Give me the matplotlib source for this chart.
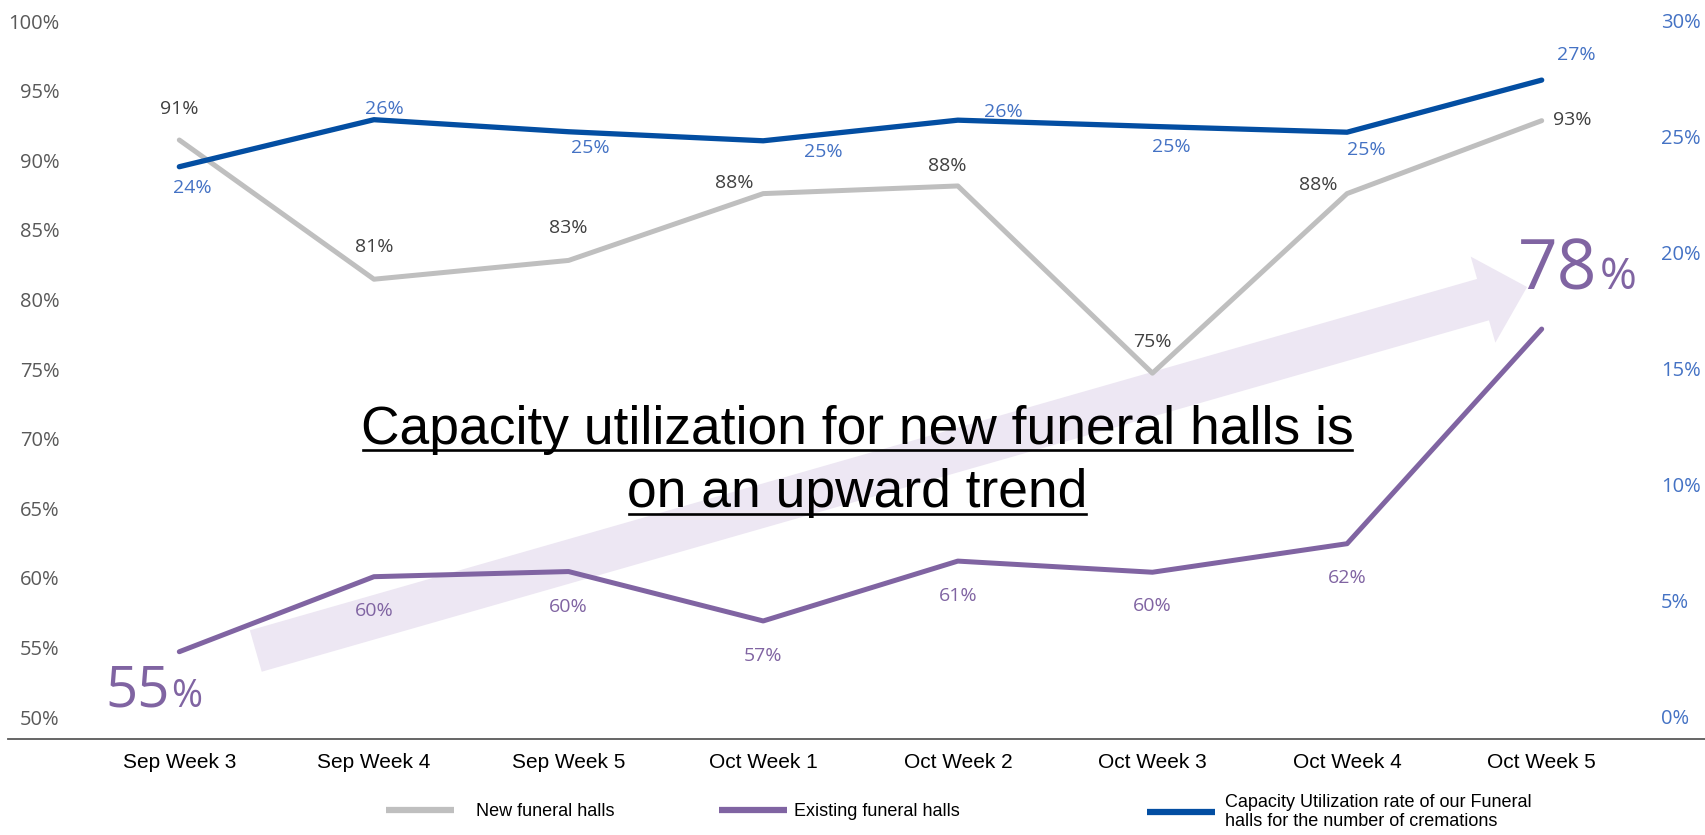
import matplotlib
matplotlib.use("Agg")
import matplotlib.pyplot as plt
from matplotlib.lines import Line2D
from matplotlib.patches import FancyArrowPatch

# ---------------- data ----------------
categories = ["Sep Week 3", "Sep Week 4", "Sep Week 5", "Oct Week 1",
              "Oct Week 2", "Oct Week 3", "Oct Week 4", "Oct Week 5"]
new_halls = [91.45, 81.45, 82.8, 87.6, 88.15, 74.7, 87.6, 92.84]
existing_halls = [54.69, 60.08, 60.45, 56.9, 61.2, 60.4, 62.45, 77.87]
capacity_rate = [23.71, 25.74, 25.22, 24.83, 25.72, 25.45, 25.2, 27.45]
left_ticks = [50, 55, 60, 65, 70, 75, 80, 85, 90, 95, 100]
right_ticks = [0, 5, 10, 15, 20, 25, 30]
series_names = ["New funeral halls", "Existing funeral halls",
                "Capacity Utilization rate of our Funeral\nhalls for the number of cremations"]
title_lines = ["Capacity utilization for new funeral halls is", "on an upward trend"]

# ---------------- label offsets (pixels, right / down) ----------------
grey_off = [(0, -31), (0, -32), (0, -32), (-29, -11), (-11, -20), (0, -31), (-29, -9), (31, -1)]
purple_off = [None, (0, 34), (0, 35), (0, 35), (0, 35), (0, 34), (0, 34), None]
blue_off = [(13, 21), (10, -11), (22, 16), (60, 11), (46, -8), (19, 21), (19, 18), (35, -25)]

GREY = "#BFBFBF"
PURPLE = "#8064A2"
BLUE = "#034EA2"
BLUE_TXT = "#4472C4"
NUMFONT = "Open Sans"
ARIAL = "Liberation Sans"

W, H = 1705, 835
fig = plt.figure(figsize=(W / 100, H / 100), dpi=100)
ax = fig.add_axes([82 / W, (H - 739) / H, 1557 / W, 718 / H])
ax2 = ax.twinx()

x = list(range(len(categories)))
ln_new, = ax.plot(x, new_halls, color=GREY, lw=3.6, solid_capstyle="round",
                  solid_joinstyle="round", zorder=3)
ln_ex, = ax.plot(x, existing_halls, color=PURPLE, lw=3.6, solid_capstyle="round",
                 solid_joinstyle="round", zorder=3)
ln_cap, = ax2.plot(x, capacity_rate, color=BLUE, lw=3.8, solid_capstyle="round",
                   solid_joinstyle="round", zorder=3)

ax.set_xlim(-0.5, 7.5)
ax.set_ylim(48.42, 100)
ax2.set_ylim(-0.99, 30)

for a in (ax, ax2):
    for s in a.spines.values():
        s.set_visible(False)

ax.set_xticks(x)
ax.set_xticklabels(categories, fontfamily=ARIAL, fontsize=15, color="black")
ax.tick_params(axis="x", length=0, pad=10)
ax.set_yticks(left_ticks)
ax.set_yticklabels([f"{t}%" for t in left_ticks], fontfamily=NUMFONT, fontsize=14.5, color="#595959")
ax.tick_params(axis="y", length=0, pad=16)
ax2.set_yticks(right_ticks)
ax2.set_yticklabels([f"{t}%" for t in right_ticks], fontfamily=NUMFONT, fontsize=14.5, color=BLUE_TXT)
ax2.tick_params(axis="y", length=0, pad=16)

# bottom axis line spanning the slide
ax.axhline(48.42, xmin=-0.0475, xmax=1.0424, color="#595959", lw=1.3, clip_on=False, zorder=5)

# background trend arrow
arrow = FancyArrowPatch((0.393, 54.74), (6.925, 80.89),
                        arrowstyle="simple,head_length=33,head_width=64.5,tail_width=31",
                        mutation_scale=1, shrinkA=0, shrinkB=0,
                        color="#EDE7F3", lw=0, zorder=1)
ax.add_patch(arrow)

# data labels
for i, v in enumerate(new_halls):
    dx, dy = grey_off[i]
    ax.annotate(f"{round(v)}%", (i, v), xytext=(dx, -dy), textcoords="offset pixels",
                ha="center", va="center", fontsize=14, color="#404040", fontfamily=NUMFONT, zorder=6)
for i, v in enumerate(existing_halls):
    if purple_off[i] is None:
        continue
    dx, dy = purple_off[i]
    ax.annotate(f"{round(v)}%", (i, v), xytext=(dx, -dy), textcoords="offset pixels",
                ha="center", va="center", fontsize=14, color=PURPLE, fontfamily=NUMFONT, zorder=6)
for i, v in enumerate(capacity_rate):
    dx, dy = blue_off[i]
    ax2.annotate(f"{round(v)}%", (i, v), xytext=(dx, -dy), textcoords="offset pixels",
                 ha="center", va="center", fontsize=14, color=BLUE_TXT, fontfamily=NUMFONT, zorder=6)

# big first / last labels for existing halls
first, last = 0, len(existing_halls) - 1
ax.annotate(f"{round(existing_halls[first])}", (first, existing_halls[first]), xytext=(-9, -55),
            textcoords="offset pixels", ha="right", va="baseline", fontsize=40.5,
            color=PURPLE, fontfamily=NUMFONT, zorder=6)
ax.annotate("%", (first, existing_halls[first]), xytext=(-8, -55),
            textcoords="offset pixels", ha="left", va="baseline", fontsize=27,
            color=PURPLE, fontfamily=NUMFONT, zorder=6)
ax.annotate(f"{round(existing_halls[last])}", (last, existing_halls[last]), xytext=(56, 40),
            textcoords="offset pixels", ha="right", va="baseline", fontsize=50,
            color=PURPLE, fontfamily=NUMFONT, zorder=6)
ax.annotate("%", (last, existing_halls[last]), xytext=(58, 40),
            textcoords="offset pixels", ha="left", va="baseline", fontsize=32,
            color=PURPLE, fontfamily=NUMFONT, zorder=6)

# title in the middle, underlined
title_texts = []
for line, ypx in zip(title_lines, [444, 507]):
    t = fig.text(857 / W, 1 - ypx / H, line, ha="center", va="baseline",
                 fontsize=38.4, fontfamily=ARIAL, color="black", zorder=10)
    title_texts.append(t)

# legends
def add_leg(handle, label, x_px, hl_px, pad_px, lw):
    fs_px = 13 * 100 / 72
    leg = fig.legend([handle], [label], loc="center left",
                     bbox_to_anchor=(x_px / W, 1 - 812 / H), frameon=False,
                     borderpad=0, borderaxespad=0, handlelength=hl_px / fs_px,
                     handletextpad=pad_px / fs_px,
                     prop={"family": ARIAL, "size": 13})
    for l in leg.get_lines():
        l.set_linewidth(lw)
        l.set_solid_capstyle("butt")
    for tx in leg.get_texts():
        tx.set_color("black")
        tx.set_linespacing(1.15)
    return leg

add_leg(ln_new, series_names[0], 386, 68, 22, 4.5)
add_leg(ln_ex, series_names[1], 719, 68, 7, 4.5)
add_leg(ln_cap, series_names[2], 1147, 68, 10, 4.5)

fig.canvas.draw()
renderer = fig.canvas.get_renderer()
inv = fig.transFigure.inverted()
for t in title_texts:
    bb = t.get_window_extent(renderer)
    base = fig.transFigure.transform(t.get_position())[1]
    y = base - 6.5
    (fx0, fy), = inv.transform([(bb.x0 + 2, y)])
    (fx1, _), = inv.transform([(bb.x1 - 1, y)])
    fig.add_artist(Line2D([fx0, fx1], [fy, fy], transform=fig.transFigure,
                          color="black", lw=1.9, zorder=10))

fig.savefig("out.png", dpi=100)
